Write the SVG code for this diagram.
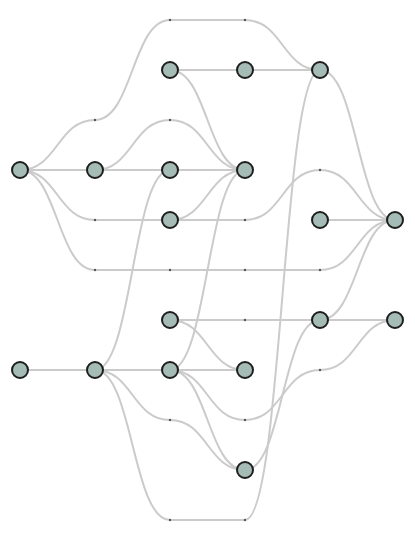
<svg xmlns="http://www.w3.org/2000/svg" width="415" height="540" viewBox="0 0 415 540">
<style>
.e{fill:none;stroke:#cbcbcb;stroke-width:2}
.n{fill:#a5bbb5;stroke:#1e1e1e;stroke-width:2}
.d{fill:#555}
</style>
<rect width="415" height="540" fill="#fff"/>
<g id="edges">
<path class="e" d="M20,170 C57.5,170 57.5,120 95,120 C132.5,120 132.5,20 170,20 L245,20 C282.5,20 282.5,70 320,70"/>
<path class="e" d="M20,170 L95,170"/>
<path class="e" d="M20,170 C57.5,170 57.5,220 95,220 L170,220"/>
<path class="e" d="M20,170 C57.5,170 57.5,270 95,270 L320,270 C357.5,270 357.5,220 395,220"/>
<path class="e" d="M95,170 C132.5,170 132.5,120 170,120 C207.5,120 207.5,170 245,170"/>
<path class="e" d="M95,170 L170,170"/>
<path class="e" d="M170,170 L245,170"/>
<path class="e" d="M170,70 L245,70"/>
<path class="e" d="M245,70 L320,70"/>
<path class="e" d="M170,70 C207.5,70 207.5,170 245,170"/>
<path class="e" d="M170,220 C207.5,220 207.5,170 245,170"/>
<path class="e" d="M170,220 L245,220 C282.5,220 282.5,170 320,170 C357.5,170 357.5,220 395,220"/>
<path class="e" d="M320,220 L395,220"/>
<path class="e" d="M320,70 C357.5,70 357.5,220 395,220"/>
<path class="e" d="M20,370 L95,370"/>
<path class="e" d="M95,370 L170,370"/>
<path class="e" d="M95,370 C132.5,370 132.5,170 170,170"/>
<path class="e" d="M95,370 C132.5,370 132.5,420 170,420 C207.5,420 207.5,470 245,470"/>
<path class="e" d="M95,370 C132.5,370 132.5,520 170,520 L245,520 C282.5,520 282.5,70 320,70"/>
<path class="e" d="M170,370 C207.5,370 207.5,170 245,170"/>
<path class="e" d="M170,370 L245,370"/>
<path class="e" d="M170,370 C207.5,370 207.5,420 245,420 C282.5,420 282.5,370 320,370 C357.5,370 357.5,320 395,320"/>
<path class="e" d="M170,370 C207.5,370 207.5,470 245,470"/>
<path class="e" d="M170,320 L320,320"/>
<path class="e" d="M170,320 C207.5,320 207.5,370 245,370"/>
<path class="e" d="M245,470 C282.5,470 282.5,320 320,320"/>
<path class="e" d="M320,320 L395,320"/>
<path class="e" d="M320,320 C357.5,320 357.5,220 395,220"/>
</g>
<g id="dummies">
<circle class="d" cx="95" cy="120" r="1.2"/>
<circle class="d" cx="170" cy="20" r="1.2"/>
<circle class="d" cx="245" cy="20" r="1.2"/>
<circle class="d" cx="95" cy="220" r="1.2"/>
<circle class="d" cx="95" cy="270" r="1.2"/>
<circle class="d" cx="170" cy="270" r="1.2"/>
<circle class="d" cx="245" cy="270" r="1.2"/>
<circle class="d" cx="320" cy="270" r="1.2"/>
<circle class="d" cx="170" cy="120" r="1.2"/>
<circle class="d" cx="245" cy="220" r="1.2"/>
<circle class="d" cx="320" cy="170" r="1.2"/>
<circle class="d" cx="170" cy="420" r="1.2"/>
<circle class="d" cx="170" cy="520" r="1.2"/>
<circle class="d" cx="245" cy="520" r="1.2"/>
<circle class="d" cx="245" cy="420" r="1.2"/>
<circle class="d" cx="320" cy="370" r="1.2"/>
<circle class="d" cx="245" cy="320" r="1.2"/>
</g>
<g id="nA"><circle class="n" cx="20" cy="170" r="8"/></g>
<g id="nB"><circle class="n" cx="95" cy="170" r="8"/></g>
<g id="nC"><circle class="n" cx="170" cy="70" r="8"/></g>
<g id="nD"><circle class="n" cx="245" cy="70" r="8"/></g>
<g id="nE"><circle class="n" cx="320" cy="70" r="8"/></g>
<g id="nF"><circle class="n" cx="170" cy="170" r="8"/></g>
<g id="nG"><circle class="n" cx="245" cy="170" r="8"/></g>
<g id="nH"><circle class="n" cx="170" cy="220" r="8"/></g>
<g id="nI"><circle class="n" cx="320" cy="220" r="8"/></g>
<g id="nJ"><circle class="n" cx="395" cy="220" r="8"/></g>
<g id="nK"><circle class="n" cx="170" cy="320" r="8"/></g>
<g id="nL"><circle class="n" cx="320" cy="320" r="8"/></g>
<g id="nM"><circle class="n" cx="395" cy="320" r="8"/></g>
<g id="nN"><circle class="n" cx="20" cy="370" r="8"/></g>
<g id="nO"><circle class="n" cx="95" cy="370" r="8"/></g>
<g id="nP"><circle class="n" cx="170" cy="370" r="8"/></g>
<g id="nQ"><circle class="n" cx="245" cy="370" r="8"/></g>
<g id="nR"><circle class="n" cx="245" cy="470" r="8"/></g>
</svg>
